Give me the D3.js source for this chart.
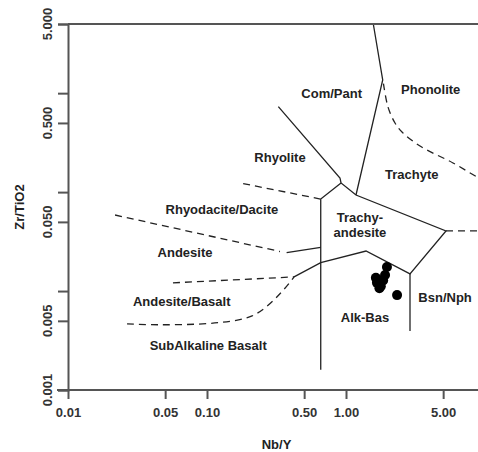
<!DOCTYPE html>
<html>
<head>
<meta charset="utf-8">
<script src="https://cdn.jsdelivr.net/npm/d3@7"></script>
<style>
  body { margin: 0; background: #fff; }
  svg { display: block; font-family: "Liberation Sans", Arial, sans-serif; font-weight: bold; }
</style>
</head>
<body>
<div id="chart"></div>
<script>
// Tick values
const xTicks = [0.01, 0.05, 0.1, 0.5, 1, 5]
const xTickLabels = ['0.01', '0.05', '0.10', '0.50', '1.00', '5.00']
const yTicks = [5, 1, 0.5, 0.1, 0.05, 0.01, 0.005, 0.001]
const yTickLabels = ['5.000', '', '0.500', '', '0.050', '', '0.005', '0.001']

// Field boundaries [Nb/Y, Zr/TiO2]
const solidLines = [
    [[1.572, 5], [1.837, 1.358], [1.18, 0.0935]],
    [[0.326, 0.73], [0.905, 0.139], [0.921, 0.1236], [1.18, 0.0935], [5.24, 0.0405],
     [2.887, 0.0149], [1.393, 0.0254], [0.658, 0.0194], [0.423, 0.0139]],
    [[0.921, 0.1236], [0.658, 0.0851], [0.658, 0.0016]],
    [[0.374, 0.0244], [0.658, 0.0277]],
    [[2.887, 0.0149], [2.887, 0.00395]]
]

const dashedLines = [
    [[1.86, 1.25], [2.005, 0.725], [2.252, 0.499], [2.529, 0.405], [3.407, 0.292],
     [5.888, 0.197], [8.76, 0.142], [10, 0.1275]],
    [[5.24, 0.0405], [10, 0.0405]],
    [[0.182, 0.122], [0.655, 0.0851]],
    [[0.0218, 0.0587], [0.335, 0.0251]],
    [[0.0569, 0.0121], [0.423, 0.0139]],
    [[0.0266, 0.00465], [0.211, 0.0056], [0.423, 0.0139]]
]

// Field names with anchor [Nb/Y, Zr/TiO2]
const fieldNames = ['Com/Pant', 'Phonolite', 'Rhyolite', 'Trachyte', 'Trachy-', 'andesite',
    'Rhyodacite/Dacite', 'Andesite', 'Andesite/Basalt', 'SubAlkaline Basalt', 'Alk-Bas', 'Bsn/Nph']
const fieldNbY = [0.789, 4.07, 0.335, 2.97, 1.26, 1.26, 0.128, 0.0695, 0.0658, 0.102, 1.37, 5.16]
const fieldZrTi = [0.997, 1.094, 0.2248, 0.1525, 0.0551, 0.0389, 0.0675, 0.0244, 0.0078, 0.0028, 0.00543, 0.00865]

// Samples
const sampleNbY = [1.97, 1.91, 1.64, 1.67, 1.78, 1.85, 1.74, 1.70, 2.33]
const sampleZrTi = [0.0175, 0.0145, 0.0136, 0.0121, 0.0112, 0.0128, 0.0107, 0.0130, 0.0091]

const dim = { width: 478, height: 452, left: 68, top: 24, bottom: 390, right: 485 }

const xScale = d3.scaleLog().domain([0.01, 10]).range([dim.left, dim.right])
const yScale = d3.scaleLog().domain([0.001, 5]).range([dim.bottom, dim.top])

const svg = d3.select('#chart')
    .append('svg')
    .attr('width', dim.width)
    .attr('height', dim.height)

const line = d3.line()
    .x(d => xScale(d[0]))
    .y(d => yScale(d[1]))

const curve = d3.line()
    .x(d => xScale(d[0]))
    .y(d => yScale(d[1]))
    .curve(d3.curveCatmullRom)

svg.append('g')
    .selectAll('path')
    .data(solidLines)
    .join('path')
    .attr('d', line)
    .attr('fill', 'none')
    .attr('stroke', '#222')
    .attr('stroke-width', 1.3)

svg.append('g')
    .selectAll('path')
    .data(dashedLines)
    .join('path')
    .attr('d', curve)
    .attr('fill', 'none')
    .attr('stroke', '#222')
    .attr('stroke-width', 1.3)
    .attr('stroke-dasharray', '7,5')

// top frame
svg.append('line')
    .attr('x1', xScale(0.01))
    .attr('x2', xScale(10))
    .attr('y1', yScale(5))
    .attr('y2', yScale(5))
    .attr('stroke', '#555')
    .attr('stroke-width', 2)

// axes
const xAxis = d3.axisBottom(xScale)
    .tickValues(xTicks)
    .tickFormat((d, i) => xTickLabels[i])
    .tickSize(9)
    .tickPadding(9)

const yAxis = d3.axisLeft(yScale)
    .tickValues(yTicks)
    .tickFormat('')
    .tickSize(10)

const xAxisGroup = svg.append('g')
    .attr('transform', `translate(0, ${dim.bottom})`)
    .call(xAxis)

const yAxisGroup = svg.append('g')
    .attr('transform', `translate(${dim.left}, 0)`)
    .call(yAxis)

xAxisGroup.select('.domain').attr('d', `M${dim.left - 11},0H${dim.right}`)

for (const g of [xAxisGroup, yAxisGroup]) {
    g.select('.domain').attr('stroke', '#555').attr('stroke-width', 2)
    g.selectAll('.tick line').attr('stroke', '#555').attr('stroke-width', 2)
}
xAxisGroup.selectAll('.tick text')
    .attr('fill', '#333')
    .style('font-size', '13px')
    .style('font-family', '"Liberation Sans", Arial, sans-serif')
    .style('font-weight', 'bold')

svg.append('g')
    .selectAll('text')
    .data(yTicks.filter((d, i) => yTickLabels[i]))
    .join('text')
    .attr('transform', d => `translate(52, ${yScale(d)}) rotate(-90)`)
    .attr('text-anchor', 'middle')
    .attr('fill', '#333')
    .style('font-size', '13px')
    .text(d => yTickLabels[yTicks.indexOf(d)])

// axis titles
svg.append('text')
    .attr('x', (dim.left + dim.right) / 2)
    .attr('y', 449)
    .attr('text-anchor', 'middle')
    .attr('fill', '#222')
    .style('font-size', '13px')
    .text('Nb/Y')

svg.append('text')
    .attr('transform', `translate(24, ${(dim.top + dim.bottom) / 2}) rotate(-90)`)
    .attr('text-anchor', 'middle')
    .attr('fill', '#222')
    .style('font-size', '13px')
    .text('Zr/TiO2')

// field names
svg.append('g')
    .selectAll('text')
    .data(fieldNames)
    .join('text')
    .attr('x', (d, i) => xScale(fieldNbY[i]))
    .attr('y', (d, i) => yScale(fieldZrTi[i]))
    .attr('dy', '0.35em')
    .attr('text-anchor', 'middle')
    .attr('fill', '#222')
    .style('font-size', '13px')
    .text(d => d)

// samples
svg.append('g')
    .selectAll('circle')
    .data(sampleNbY)
    .join('circle')
    .attr('cx', d => xScale(d))
    .attr('cy', (d, i) => yScale(sampleZrTi[i]))
    .attr('r', 5)
    .attr('fill', '#000')
</script>
</body>
</html>
